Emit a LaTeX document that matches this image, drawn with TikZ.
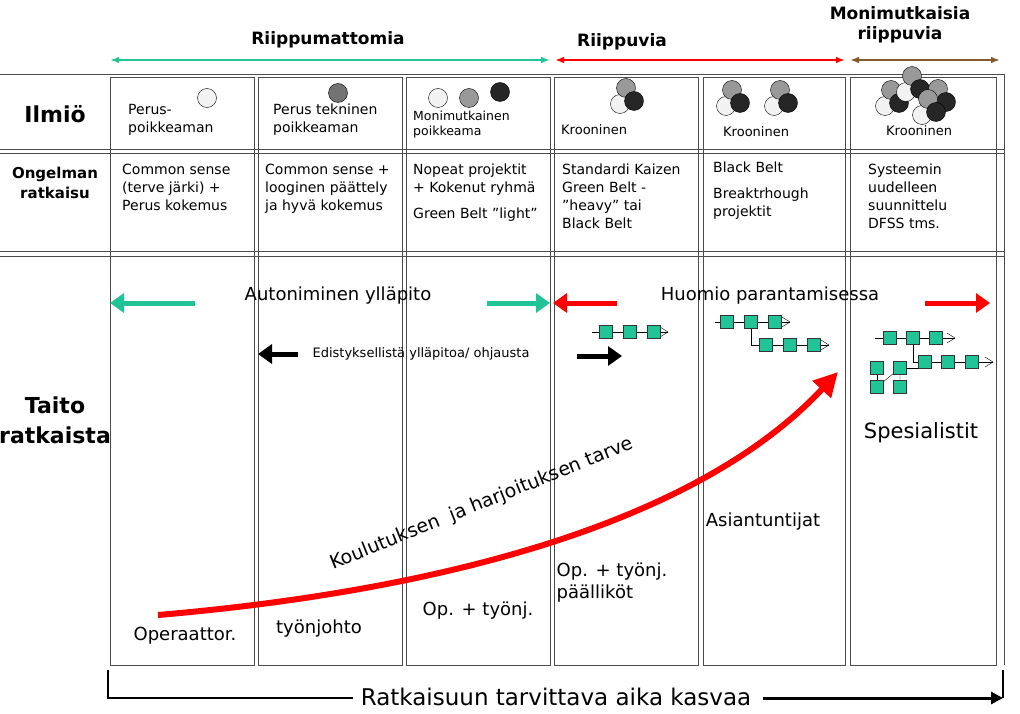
\documentclass[tikz,border=0pt]{standalone}
\usepackage{fontspec}
\setmainfont{DejaVu Sans}
\usetikzlibrary{arrows.meta}
\definecolor{mint}{RGB}{32,196,150}
\tikzset{
  cell/.style={draw=black!70,line width=0.9pt},
  txt/.style={inner sep=0pt,align=left,anchor=north west,font=\fontsize{14}{18}\selectfont},
  big/.style={inner sep=0pt,font=\fontsize{18}{22}\selectfont},
  head/.style={inner sep=0pt,font=\bfseries\fontsize{17}{20}\selectfont,align=center},
  sq/.style={draw=black!80,fill=mint,minimum size=13pt,inner sep=0pt,line width=0.6pt},
  blk/.style={line width=5pt,-{Triangle[length=14pt,width=19pt]}},
}
\newcommand{\ball}[3]{\fill[#3,draw=black] (#1,#2) circle (9.5);}
\newcommand{\trio}[2]{%
  \ball{#1-6}{#2+16}{black!5}\ball{#1}{#2}{black!40}\ball{#1+8}{#2+13}{black!85}}
\begin{document}
\begin{tikzpicture}[x=1pt,y=-1pt]
\useasboundingbox (0,0) rectangle (1020,714);
% frame
\foreach \y in {74,149,153,251,256}
  \draw[cell] (0,\y) -- (1004,\y);
\draw[cell] (1004,74) -- (1004,665);
\foreach \a/\b in {110/254,258/402,406/550,554/698,703/845,850/996}
  \draw[cell] (\a,77) rectangle (\b,665);
% groups
\draw[mint,line width=2pt,{Latex[length=9pt]}-{Latex[length=9pt]}] (110,60) coordinate (g1) -- (550,60) coordinate (g2);
\node[head] (grpa) at (328,40) {Riippumattomia};
\draw[red,line width=2pt,{Latex[length=9pt]}-{Latex[length=9pt]}] (555,60) coordinate (r1) -- (845,60) coordinate (r2);
\node[head] (grpb) at (622,42) {Riippuvia};
\draw[brown!70!black,line width=2pt,{Latex[length=9pt]}-{Latex[length=9pt]}] (850,60) coordinate (b1) -- (1000,60) coordinate (b2);
\node[head] (grpc) at (900,25) {Monimutkaisia\\riippuvia};
% row labels
\node[head,font=\bfseries\fontsize{22}{26}\selectfont] (ilmio) at (55,114) {Ilmiö};
\node[head,font=\bfseries\fontsize{15}{20}\selectfont] (ongelma) at (55,183) {Ongelman\\ratkaisu};
\node[head,font=\bfseries\fontsize{22}{30}\selectfont] (taito) at (55,420) {Taito\\ratkaista};
% phenomena
\ball{207}{98}{black!5}
\ball{338}{93}{black!55}
\ball{438}{98}{black!5}\ball{469}{98}{black!40}\ball{500}{92}{black!85}
\trio{626}{88}
\trio{732}{90}\trio{780}{90}
\trio{891}{90}\trio{912}{76}\trio{938}{89}\trio{928}{99}
\node[txt] (p1) at (128,104) {Perus-\\poikkeaman};
\node[txt] (p2) at (273,104) {Perus tekninen\\poikkeaman};
\node[txt,font=\fontsize{12.5}{15}\selectfont] (p3) at (413,111) {Monimutkainen\\poikkeama};
\node[txt,font=\fontsize{13}{15}\selectfont] (p4) at (561,124) {Krooninen};
\node[txt,font=\fontsize{13}{15}\selectfont] (p5) at (723,126) {Krooninen};
\node[txt,font=\fontsize{13}{15}\selectfont] (p6) at (886,125) {Krooninen};
% problem solving
\node[txt] (s1) at (122,164) {Common sense\\(terve järki) +\\Perus kokemus};
\node[txt] (s2) at (265,164) {Common sense +\\looginen päättely\\ja hyvä kokemus};
\node[txt] (s3) at (413,164) {Nopeat projektit\\+ Kokenut ryhmä\\[8pt]Green Belt ”light”};
\node[txt] (s4) at (562,164) {Standardi Kaizen\\Green Belt -\\”heavy” tai\\Black Belt};
\node[txt] (s5) at (713,162) {Black Belt\\[8pt]Breaktrhough\\projektit};
\node[txt] (s6) at (868,164) {Systeemin\\uudelleen\\suunnittelu\\DFSS tms.};
% third row arrows
\node[big] (auto) at (338,296) {Autoniminen ylläpito};
\coordinate (ga) at (195,303); \coordinate (gb) at (110,303);
\coordinate (gc) at (487,303); \coordinate (gd) at (550,303);
\draw[blk,mint] (ga) -- (gb);
\draw[blk,mint] (gc) -- (gd);
\node[big] (huomio) at (770,296) {Huomio parantamisessa};
\coordinate (ra) at (617,303); \coordinate (rb) at (553,303);
\coordinate (rc) at (925,303); \coordinate (rd) at (990,303);
\draw[blk,red] (ra) -- (rb);
\draw[blk,red] (rc) -- (rd);
\node[inner sep=0pt,font=\fontsize{13}{15}\selectfont] (edist) at (421,354) {Edistyksellistä ylläpitoa/ ohjausta};
\coordinate (ka) at (298,354); \coordinate (kb) at (258,354);
\coordinate (kc) at (577,356); \coordinate (kd) at (622,356);
\draw[blk,black] (ka) -- (kb);
\draw[blk,black] (kc) -- (kd);
% chains
\draw (592,332) -- (668,332) coordinate (e1);
\draw (660,327) -- (e1) -- (660,337);
\foreach \x/\n in {606/a1,630/a2,654/a3} \node[sq] (\n) at (\x,332) {};
\draw (715,322) -- (790,322) coordinate (e2);
\draw (782,317) -- (e2) -- (782,327);
\draw (751,322) |- (829,345) coordinate (e3);
\draw (821,340) -- (e3) -- (821,350);
\foreach \x/\n in {727/b1,751/b2,775/b3} \node[sq] (\n) at (\x,322) {};
\foreach \x/\n in {766/b4,790/b5,814/b6} \node[sq] (\n) at (\x,345) {};
\draw (875,338) -- (955,338) coordinate (e4);
\draw (947,333) -- (e4) -- (947,343);
\draw (913,338) |- (993,362) coordinate (e5);
\draw (985,357) -- (e5) -- (985,367);
\draw (900,368) -- (925,368);
\draw (877,387) -- (900,368) -- (900,387);
\draw (877,368) -- (877,387);
\foreach \x/\n in {890/c1,913/c2,936/c3} \node[sq] (\n) at (\x,338) {};
\foreach \x/\n in {925/c4,948/c5,972/c6} \node[sq] (\n) at (\x,362) {};
\foreach \x/\y/\n in {877/368/d1,900/368/d2,877/387/d3,900/387/d4} \node[sq] (\n) at (\x,\y) {};
% skills
\node[big] (sk1) at (185,636) {Operaattor.};
\node[big] (sk2) at (319,629) {työnjohto};
\node[big] (sk3) at (478,611) {Op. + työnj.};
\node[big,align=left] (sk4) at (612,583) {Op. + työnj.\\päälliköt};
\node[big] (sk5) at (763,522) {Asiantuntijat};
\node[big,font=\fontsize{21}{24}\selectfont] (sk6) at (921,433) {Spesialistit};
\coordinate (cs) at (158,615); \coordinate (ce) at (838,372);
\draw[red,line width=6pt,-{Triangle[length=24pt,width=24pt]}] (cs) .. controls (450,590) and (700,520) .. (ce);
\node[inner sep=0pt,font=\fontsize{19}{22}\selectfont,rotate=22] (need) at (482,504) {Koulutuksen\ \ ja harjoituksen tarve};
% time axis
\node[inner sep=0pt,font=\fontsize{23}{26}\selectfont] (time) at (556,697) {Ratkaisuun tarvittava aika kasvaa};
\coordinate (t0) at (108,670); \coordinate (t1) at (108,698);
\coordinate (t2) at (1003,698); \coordinate (t3) at (1003,670);
\draw[line width=1.5pt] (t0) -- (t1) -- ([xshift=-8pt]time.west |- t1);
\draw[line width=1.5pt] (t3) -- (t2);
\draw[line width=3pt,-{Triangle[length=12pt,width=12pt]}] ([xshift=12pt]time.east |- t2) -- (t2);
\end{tikzpicture}
\end{document}
